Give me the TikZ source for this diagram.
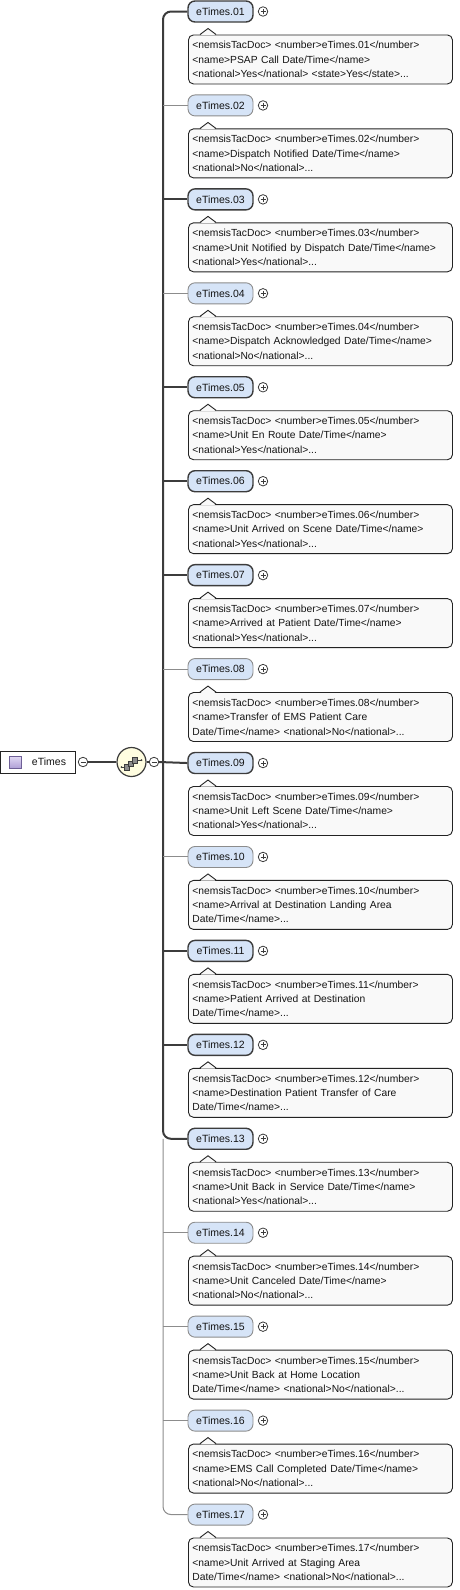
\documentclass[tikz,border=0pt]{standalone}
\usepackage{fontspec}
\setmainfont{Liberation Sans}
\definecolor{elemfill}{RGB}{214,228,247}
\definecolor{reqdraw}{RGB}{60,60,60}
\definecolor{optdraw}{RGB}{140,140,140}
\definecolor{annotfill}{RGB}{249,249,249}
\definecolor{annotdraw}{RGB}{35,35,35}
\definecolor{txt}{RGB}{20,20,20}
\definecolor{seqfill}{RGB}{255,253,224}
\definecolor{icontop}{RGB}{226,218,244}
\definecolor{iconbot}{RGB}{176,160,214}
\definecolor{icondraw}{RGB}{110,95,150}
\definecolor{sqfill}{RGB}{140,140,140}
\tikzset{
  elembase/.style={rectangle, rounded corners=7pt, minimum width=65pt, minimum height=21pt,
    inner sep=0pt, fill=elemfill, text=txt, font=\fontsize{10.5}{12}\selectfont},
  elemreq/.style={elembase, draw=reqdraw, line width=1.4pt},
  elemopt/.style={elembase, draw=optdraw, line width=0.9pt},
  req-line/.style={draw=reqdraw, line width=2pt},
  opt-line/.style={draw=optdraw, line width=1pt},
  dark-line/.style={draw=reqdraw, line width=1.3pt},
  annot/.style={rectangle, rounded corners=5pt, draw=annotdraw, line width=0.9pt, fill=annotfill,
    minimum width=264pt, minimum height=49pt, text width=256pt, inner xsep=4pt, inner ysep=2pt,
    align=left, anchor=north west, text=txt, font=\fontsize{10.3}{14.3}\selectfont},
  pointerfill/.style={fill=annotfill},
  pointerdraw/.style={draw=annotdraw, line width=0.9pt},
  smallcirc/.style={circle, draw=reqdraw, line width=0.8pt, minimum size=9.5pt, inner sep=0pt, fill=white},
  pluscirc/.style={smallcirc, path picture={
      \draw[line width=0.8pt, draw=reqdraw] ([xshift=-2.5pt]path picture bounding box.center) -- ([xshift=2.5pt]path picture bounding box.center);
      \draw[line width=0.8pt, draw=reqdraw] ([yshift=-2.5pt]path picture bounding box.center) -- ([yshift=2.5pt]path picture bounding box.center);}},
  minuscirc/.style={smallcirc, path picture={
      \draw[line width=0.8pt, draw=reqdraw] ([xshift=-2.5pt]path picture bounding box.center) -- ([xshift=2.5pt]path picture bounding box.center);}},
  rootbox/.style={rectangle, draw=annotdraw, line width=1pt, fill=white, minimum width=75pt, minimum height=22pt, inner sep=0pt},
  rooticon/.style={rectangle, draw=icondraw, line width=0.6pt, top color=icontop, bottom color=iconbot, minimum size=12pt, inner sep=0pt},
  rootlabel/.style={text=txt, inner sep=0pt, font=\fontsize{10.5}{12}\selectfont},
  seqcirc/.style={circle, draw=reqdraw, line width=1.2pt, fill=seqfill, minimum size=29pt, inner sep=0pt},
  seqsq/.style={rectangle, draw=reqdraw, line width=0.5pt, fill=sqfill, minimum size=5.5pt, inner sep=0pt},
}
\newcommand{\etel}[5]{%
  \pgfmathsetmacro{\ey}{11.5+(#1-1)*93.94}
  \node[elem#3] (e#2) at (220.5,\ey) {eTimes.#2};
  \node[pluscirc] (p#2) at (263,\ey) {};
  \node[annot] (a#2) at (188,\ey+23) {<nemsisTacDoc> <number>eTimes.#2</number>\\#4\\#5};
  \fill[pointerfill] (200.7,\ey+23.7) -- (208,\ey+17) -- (215.3,\ey+23.7) -- cycle;
  \draw[pointerdraw] (200,\ey+23) -- (208,\ey+17) -- (216,\ey+23);
}
\begin{document}
\begin{tikzpicture}[x=1pt,y=-1pt]
\useasboundingbox (0,0) rectangle (459,1590);
% elements
\etel{1}{01}{req}{<name>PSAP Call Date/Time</name>}{<national>Yes</national> <state>Yes</state>...}
\etel{2}{02}{opt}{<name>Dispatch Notified Date/Time</name>}{<national>No</national>...}
\etel{3}{03}{req}{<name>Unit Notified by Dispatch Date/Time</name>}{<national>Yes</national>...}
\etel{4}{04}{opt}{<name>Dispatch Acknowledged Date/Time</name>}{<national>No</national>...}
\etel{5}{05}{req}{<name>Unit En Route Date/Time</name>}{<national>Yes</national>...}
\etel{6}{06}{req}{<name>Unit Arrived on Scene Date/Time</name>}{<national>Yes</national>...}
\etel{7}{07}{req}{<name>Arrived at Patient Date/Time</name>}{<national>Yes</national>...}
\etel{8}{08}{opt}{<name>Transfer of EMS Patient Care}{Date/Time</name> <national>No</national>...}
\etel{9}{09}{req}{<name>Unit Left Scene Date/Time</name>}{<national>Yes</national>...}
\etel{10}{10}{opt}{<name>Arrival at Destination Landing Area}{Date/Time</name>...}
\etel{11}{11}{req}{<name>Patient Arrived at Destination}{Date/Time</name>...}
\etel{12}{12}{req}{<name>Destination Patient Transfer of Care}{Date/Time</name>...}
\etel{13}{13}{req}{<name>Unit Back in Service Date/Time</name>}{<national>Yes</national>...}
\etel{14}{14}{opt}{<name>Unit Canceled Date/Time</name>}{<national>No</national>...}
\etel{15}{15}{opt}{<name>Unit Back at Home Location}{Date/Time</name> <national>No</national>...}
\etel{16}{16}{opt}{<name>EMS Call Completed Date/Time</name>}{<national>No</national>...}
\etel{17}{17}{opt}{<name>Unit Arrived at Staging Area}{Date/Time</name> <national>No</national>...}
% root
\node[rootbox] (root) at (37.5,762) {};
\node[rooticon] (ricon) at (15.5,762) {};
\node[rootlabel] (rlabel) at (49,762) {eTimes};
\node[minuscirc] (m1) at (83,762) {};
\node[seqcirc] (seq) at (131.5,762) {};
\node[minuscirc] (m2) at (154,762) {};
% sequence icon
\coordinate (sl) at (121.5,767);
\coordinate (sr) at (141.5,760);
\node[seqsq] (q1) at (126.5,767) {};
\node[seqsq] (q2) at (130.5,763.5) {};
\node[seqsq] (q3) at (134.5,760) {};
\draw[line width=0.8pt, draw=reqdraw] (sl) -- (q1.west);
\draw[line width=0.8pt, draw=reqdraw] (q3.east) -- (sr);
\fill[reqdraw] (sl) circle (1pt);
\fill[reqdraw] (sr) circle (1pt);
% connectors
\coordinate (tx) at (163,762);
\draw[dark-line] (m1.east) -- (seq.west);
\draw[dark-line] (seq.east) -- (m2.west);
\draw[opt-line, rounded corners=8pt] (e13.west -| tx) -- (e17.west -| tx) -- (e17.west);
\draw[req-line, rounded corners=8pt] (e01.west) -- (e01.west -| tx) -- (e13.west -| tx) -- (e13.west);
\foreach \k/\s in {02/opt,03/req,04/opt,05/req,06/req,07/req,08/opt,10/opt,11/req,12/req,14/opt,15/opt,16/opt}
  \draw[\s-line] (e\k.west -| tx) -- (e\k.west);
\draw[req-line] (m2.east) -- (e09.west);
\end{tikzpicture}
\end{document}
